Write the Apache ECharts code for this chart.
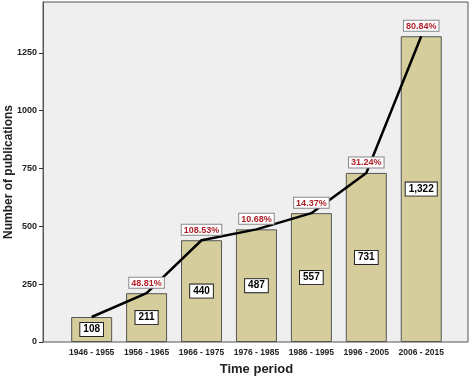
<!DOCTYPE html>
<html>
<head>
<meta charset="utf-8">
<script src="https://cdn.jsdelivr.net/npm/echarts@6/dist/echarts.min.js"></script>
<style>
  html, body { margin: 0; padding: 0; background: #fff; }
  #chart { width: 472px; height: 378px; }
</style>
</head>
<body>
<div id="chart"></div>
<script>
// 数据
var periods = ['1946 - 1955', '1956 - 1965', '1966 - 1975', '1976 - 1985', '1986 - 1995', '1996 - 2005', '2006 - 2015'];
var publications = [108, 211, 440, 487, 557, 731, 1322];
var growthPct = [null, 48.81, 108.53, 10.68, 14.37, 31.24, 80.84];
var yTicks = [0, 250, 500, 750, 1000, 1250];
var yMax = 1470;

function withComma(n) {
    return String(n).replace(/\B(?=(\d{3})+(?!\d))/g, ',');
}

var lineData = publications.map(function (v, i) {
    return { value: v, label: { show: growthPct[i] !== null } };
});

var option = {
    animation: false,
    grid: [
        // 外框 + 灰色背景, y轴画在这里
        { left: 43, right: 4, top: 2, bottom: 36, outerBoundsMode: 'none', show: true, backgroundColor: '#efefef', borderColor: '#555', borderWidth: 1 },
        // 柱子所在区域
        { left: 64.2, right: 23.3, top: 2, bottom: 36, outerBoundsMode: 'none' }
    ],
    xAxis: [
        { gridIndex: 0, type: 'value', show: false, min: 0, max: 1 },
        {
            gridIndex: 1,
            type: 'category',
            data: periods,
            name: 'Time period',
            nameLocation: 'middle',
            nameGap: 21,
            nameMoveOverlap: false,
            nameTextStyle: { fontFamily: 'Liberation Sans', fontWeight: 'bold', fontSize: 13, color: '#222' },
            axisLine: { show: false },
            axisTick: { alignWithLabel: true, length: 5, lineStyle: { color: '#333' } },
            axisLabel: { margin: 6, fontSize: 8.5, color: '#222', fontFamily: 'Liberation Sans', fontWeight: 'bold', interval: 0 }
        }
    ],
    yAxis: [
        {
            gridIndex: 0,
            type: 'value',
            min: 0,
            max: yMax,
            name: 'Number of publications',
            nameLocation: 'middle',
            nameGap: 28,
            nameMoveOverlap: false,
            nameTextStyle: { fontFamily: 'Liberation Sans', fontWeight: 'bold', fontSize: 12, color: '#222' },
            splitLine: { show: false },
            axisLine: { show: true, onZero: false, lineStyle: { color: '#555' } },
            axisTick: { show: true, length: 4, customValues: yTicks, lineStyle: { color: '#333' } },
            axisLabel: {
                margin: 6, fontSize: 9, color: '#222', fontFamily: 'Liberation Sans', fontWeight: 'bold',
                customValues: yTicks,
                formatter: function (v) { return String(v); }
            }
        },
        { gridIndex: 1, type: 'value', min: 0, max: yMax, show: false }
    ],
    series: [
        {
            type: 'bar',
            xAxisIndex: 1,
            yAxisIndex: 1,
            data: publications,
            barWidth: 41,
            itemStyle: { color: '#d5cd9c', borderColor: '#555', borderWidth: 1 },
            label: {
                show: true,
                position: 'inside',
                formatter: function (p) { return withComma(p.value); },
                color: '#000',
                fontSize: 10,
                fontFamily: 'Liberation Sans',
                fontWeight: 'bold',
                backgroundColor: '#fff',
                borderColor: '#222',
                borderWidth: 1,
                padding: [2, 3, 1, 3]
            }
        },
        {
            type: 'line',
            xAxisIndex: 1,
            yAxisIndex: 1,
            data: lineData,
            symbol: 'circle',
            symbolSize: 1,
            itemStyle: { color: 'rgba(0,0,0,0)' },
            z: 5,
            lineStyle: { color: '#000', width: 2.5 },
            label: {
                show: true,
                position: 'top',
                distance: 5,
                formatter: function (p) { return growthPct[p.dataIndex].toFixed(2) + '%'; },
                color: '#b0202a',
                fontSize: 9,
                fontFamily: 'Liberation Sans',
                fontWeight: 'bold',
                backgroundColor: '#fff',
                borderColor: '#888',
                borderWidth: 1,
                padding: [1, 2, 0, 2]
            }
        }
    ]
};

var chart = echarts.init(document.getElementById('chart'));
chart.setOption(option);
</script>
</body>
</html>
